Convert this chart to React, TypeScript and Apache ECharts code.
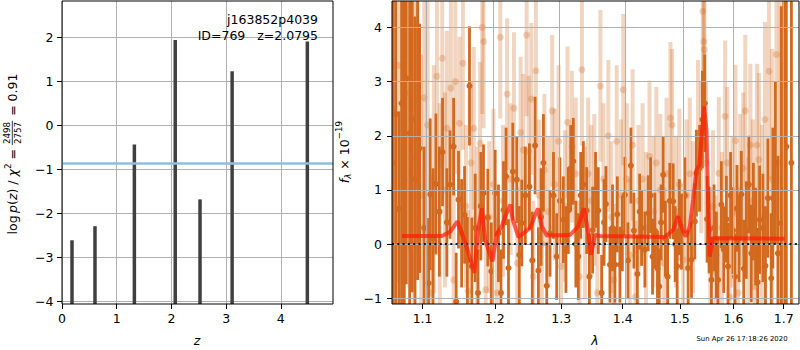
import React, { useEffect, useRef } from "react";
import * as echarts from "echarts";

// ---------- Left panel: log p(z) ----------
const zTicks = [0, 1, 2, 3, 4];
const logpTicks = [-4, -3, -2, -1, 0, 1, 2];
const zRange = [0, 4.954];
const logpRange = [-4.068, 2.819];
// redshift peaks of p(z) and their log-probability maxima
const peakZ = [0.183, 0.603, 1.323, 2.07, 2.523, 3.11, 4.485];
const peakLogP = [-2.62, -2.3, -0.44, 1.93, -1.69, 1.22, 1.9];
const chi2Level = -0.88;

// ---------- Right panel: spectrum ----------
const lamTicks = [1.1, 1.2, 1.3, 1.4, 1.5, 1.6, 1.7];
const fluxTicks = [-1, 0, 1, 2, 3, 4];
const lamRange = [1.0602, 1.7316];
const fluxRange = [-1.105, 4.488];

// [wavelength (um), flux, error] — strong grism
const darkSpectrum: [number, number, number][] = [
  [1.0615, 1.5, 5], [1.065, 2.4, 4.5], [1.069, 0.65, 1.8], [1.0725, 2.6, 4], [1.076, 1.2, 4],
  [1.0786, 3.06, 3.8], [1.083, 2.05, 3.5], [1.0864, 2.31, 3.2], [1.09, 1.2, 3.0], [1.0934, 1.94, 2.6],
  [1.0961, 1.77, 2.3], [1.102, 0.3, 1.5], [1.108, -0.72, 1.2], [1.1102, 0.92, 1.4], [1.114, 0.1, 1.3],
  [1.1178, 1.11, 1.3], [1.1225, 0.6, 1.2], [1.1268, 1.7, 1.0], [1.1327, 0.4, 1.0], [1.137, 1.1, 1.0],
  [1.1419, 1.8, 0.9], [1.1455, -1.06, 0.9], [1.1487, 0.82, 0.9], [1.153, 0.2, 1.0], [1.1571, 0.54, 0.9],
  [1.161, -0.3, 0.8], [1.164, 2.92, 1.1], [1.1673, -0.41, 0.9], [1.172, 0.3, 1.0], [1.176, -0.9, 0.8],
  [1.18, 0.7, 1.0], [1.1838, 0.94, 0.9], [1.19, 0.49, 0.9], [1.195, -0.5, 0.9], [1.2006, 0.94, 0.8],
  [1.2054, 0.2, 0.9], [1.209, -0.9, 0.8], [1.2127, 0.63, 0.9], [1.2165, 1.25, 0.9], [1.22, -0.44, 0.9],
  [1.2264, 1.34, 0.9], [1.2323, 1.19, 0.8], [1.236, -0.2, 0.9], [1.2397, 0.39, 0.8], [1.245, 0.9, 0.9],
  [1.2512, 1.06, 0.8], [1.2555, -0.3, 0.9], [1.2598, 1.82, 0.9], [1.2648, -0.49, 0.8], [1.269, 0.5, 0.9],
  [1.2725, 1.5, 0.9], [1.2776, -0.77, 0.8], [1.2827, 0.2, 0.8], [1.288, 0.9, 0.8], [1.293, -0.23, 0.8],
  [1.298, 0.8, 0.8], [1.3034, 0.45, 0.8], [1.3075, -0.1, 0.8], [1.3113, 0.62, 0.8], [1.315, 1.4, 0.8],
  [1.3192, 1.53, 0.8], [1.3232, 0.0, 0.8], [1.3272, -0.23, 0.8], [1.331, 0.9, 0.8], [1.3352, 1.1, 0.8],
  [1.3406, 0.62, 0.8], [1.345, -0.6, 0.8], [1.3503, 0.26, 0.8], [1.355, 1.0, 0.7], [1.3595, 0.62, 0.8],
  [1.365, -0.9, 0.7], [1.369, 0.4, 0.8], [1.3721, 0.74, 0.7], [1.3787, -0.38, 0.7], [1.383, 0.3, 0.8],
  [1.387, -0.38, 0.7], [1.391, 0.55, 0.7], [1.3954, -0.38, 0.7], [1.3995, 0.2, 0.7], [1.4038, 0.91, 0.7],
  [1.409, -0.3, 0.7], [1.414, 1.45, 0.7], [1.4191, 0.25, 0.7], [1.425, -0.55, 0.7], [1.429, 0.6, 0.7],
  [1.4323, 0.3, 0.7], [1.438, -0.1, 0.7], [1.4438, 0.57, 0.7], [1.448, 0.9, 0.7], [1.4514, -0.23, 0.7],
  [1.4555, 0.25, 0.7], [1.46, -0.45, 0.7], [1.4631, -0.78, 0.7], [1.4665, 0.4, 0.7], [1.4701, 1.28, 0.7],
  [1.474, 0.1, 0.7], [1.478, -0.6, 0.7], [1.4819, 0.8, 0.7], [1.4879, 0.79, 0.7], [1.4915, 0.0, 0.7],
  [1.4951, -0.41, 0.7], [1.499, 0.5, 0.7], [1.5029, 0.23, 0.7], [1.509, 0.9, 0.7], [1.515, -0.44, 0.7],
  [1.5211, -0.29, 0.7], [1.5272, 0.42, 0.7], [1.5302, 1.31, 0.8], [1.536, 1.4, 0.8], [1.5413, 2.3, 0.9],
  [1.5456, 2.6, 0.9], [1.55, 0.46, 0.8], [1.5537, 0.26, 0.8], [1.5581, -0.66, 0.8], [1.563, 0.3, 0.8],
  [1.5675, -0.2, 0.8], [1.5706, -0.66, 0.8], [1.5769, 0.73, 0.8], [1.5815, -0.1, 0.8], [1.5864, 0.46, 0.8],
  [1.5896, -0.41, 0.8], [1.5945, 0.9, 0.8], [1.5992, 0.25, 0.8], [1.603, -0.6, 0.8], [1.6069, 0.66, 0.8],
  [1.611, 0.1, 0.8], [1.6153, 0.92, 0.8], [1.62, -0.45, 0.9], [1.625, 0.26, 0.9], [1.63, 1.1, 0.9],
  [1.6348, -0.17, 0.9], [1.639, 0.6, 0.9], [1.6434, 0.14, 0.9], [1.6475, -0.7, 1.0], [1.6513, 0.45, 1.0],
  [1.6579, 0.3, 1.0], [1.663, -0.4, 1.1], [1.6679, 0.85, 1.1], [1.6746, -0.63, 1.2], [1.6779, 0.85, 1.3],
  [1.683, 1.5, 1.5], [1.6881, -0.17, 1.8], [1.6949, 0.39, 4], [1.7, 1.0, 5], [1.7053, 1.8, 5],
  [1.7158, 1.5, 5],
];

// [wavelength (um), flux, error] — faint grism
const lightSpectrum: [number, number, number][] = [
  [1.062, 2.5, 4], [1.068, 3.3, 4], [1.0774, 2.79, 3.5], [1.0839, 3.03, 3.2], [1.089, 1.6, 3],
  [1.0934, 2.66, 2.8], [1.098, 0.9, 2.6], [1.1022, 2.7, 2.5], [1.1067, 2.2, 2.4], [1.111, -0.9, 2.2],
  [1.115, 1.2, 2.1], [1.1192, 3.1, 2.0], [1.123, 0.6, 2.0], [1.1264, 3.43, 2.0], [1.13, 1.0, 1.8],
  [1.1327, 2.14, 1.8], [1.1382, 2.88, 1.7], [1.142, -0.66, 1.7], [1.1442, 3.0, 1.7], [1.15, 2.23, 1.6],
  [1.1548, 3.34, 1.6], [1.159, 0.7, 1.5], [1.162, -0.87, 1.5], [1.166, 1.5, 1.5], [1.17, 2.14, 1.5],
  [1.175, 0.3, 1.5], [1.179, 1.86, 1.5], [1.182, 4.0, 1.6], [1.184, 3.74, 1.6], [1.187, -0.84, 1.4],
  [1.192, 0.5, 1.4], [1.198, 1.1, 1.4], [1.203, -0.9, 1.4], [1.208, 3.82, 1.5], [1.212, 0.8, 1.4],
  [1.218, 2.77, 1.4], [1.223, 1.2, 1.4], [1.228, 2.51, 1.4], [1.233, -0.35, 1.4], [1.238, 2.06, 1.4],
  [1.242, 1.74, 1.4], [1.247, 3.86, 1.5], [1.25, 1.71, 1.4], [1.254, 2.68, 1.4], [1.257, -0.6, 1.4],
  [1.261, 3.2, 1.4], [1.266, 0.9, 1.4], [1.27, 0.0, 1.4], [1.274, 1.37, 1.4], [1.28, 0.6, 1.4],
  [1.286, 2.46, 1.4], [1.29, 1.1, 1.4], [1.296, 1.9, 1.4], [1.3, -0.41, 1.4], [1.306, 0.7, 1.4],
  [1.31, 2.25, 1.4], [1.317, 1.8, 1.4], [1.323, 1.3, 1.4], [1.329, -0.6, 1.4], [1.333, 3.22, 1.4],
  [1.338, 0.4, 1.4], [1.343, 1.3, 1.4], [1.348, 0.8, 1.4], [1.353, 1.0, 1.4], [1.358, -0.9, 1.4],
  [1.363, 2.92, 1.4], [1.368, 1.2, 1.4], [1.376, 2.0, 1.4], [1.381, 0.5, 1.4], [1.385, -0.66, 1.4],
  [1.39, 1.9, 1.4], [1.397, 0.9, 1.4], [1.401, 2.85, 1.4], [1.407, 1.2, 1.4], [1.412, -0.2, 1.4],
  [1.417, 1.83, 1.4], [1.422, -0.97, 1.4], [1.427, 0.8, 1.4], [1.434, 1.2, 1.4], [1.44, 0.3, 1.4],
  [1.446, 1.62, 1.4], [1.453, 0.6, 1.4], [1.458, 1.5, 1.4], [1.465, 1.0, 1.4], [1.472, -0.35, 1.4],
  [1.476, 1.3, 1.4], [1.483, 2.33, 1.4], [1.486, 2.2, 1.4], [1.493, 0.6, 1.4], [1.499, 1.1, 1.4],
  [1.506, -0.29, 1.4], [1.512, 0.9, 1.4], [1.518, 1.3, 1.4], [1.524, 0.5, 1.4], [1.533, 2.0, 1.4],
  [1.539, 1.6, 1.4], [1.542, 4.3, 1.6], [1.544, 3.74, 1.6], [1.545, 3.59, 1.6], [1.548, 1.5, 1.5],
  [1.556, -0.35, 1.4], [1.561, 0.7, 1.4], [1.566, -0.5, 1.4], [1.572, 1.31, 1.4], [1.578, 0.3, 1.4],
  [1.584, 2.36, 1.4], [1.588, 1.5, 1.4], [1.593, -0.97, 1.4], [1.598, 0.6, 1.4], [1.604, 1.91, 1.4],
  [1.609, -0.9, 1.4], [1.613, 1.0, 1.4], [1.619, 1.4, 1.4], [1.623, 2.46, 1.4], [1.629, 0.2, 1.4],
  [1.633, 1.83, 1.5], [1.638, 0.8, 1.5], [1.642, -0.78, 1.5], [1.646, 1.83, 1.5], [1.65, 1.56, 1.6],
  [1.656, 0.5, 1.7], [1.662, 2.3, 1.8], [1.67, 3.19, 2.0], [1.676, 1.2, 2.4], [1.685, 3.5, 3],
  [1.692, 1.5, 3.5], [1.699, -0.14, 3.5],
];

// best-fit template model
const modelWave = [
  1.073, 1.1259, 1.1373, 1.1473, 1.1534, 1.1604, 1.1708, 1.1768, 1.1815, 1.1862, 1.1965, 1.203,
  1.2103, 1.2151, 1.223, 1.2264, 1.2348, 1.2522, 1.264, 1.2699, 1.2776, 1.314, 1.3272, 1.3363,
  1.3433, 1.3476, 1.3541, 1.3623, 1.4731, 1.4879, 1.4969, 1.5048, 1.5109, 1.5181, 1.5242, 1.5302,
  1.5357, 1.5413, 1.5444, 1.5488, 1.5519, 1.555, 1.5612, 1.7019,
];
const modelFlux = [
  0.15, 0.15, 0.23, 0.42, 0.2, -0.07, -0.53, 0.33, 0.66, 0.08, -0.32, 0.2,
  0.33, 0.51, 0.73, 0.45, 0.13, 0.3, 0.66, 0.33, 0.16, 0.17, 0.33, 0.66,
  0.2, -0.2, 0.17, 0.15, 0.13, 0.26, 0.51, 0.26, 0.14, 0.33, 0.82, 1.37,
  1.46, 2.17, 2.54, 2.11, 0.88, -0.23, 0.11, 0.1,
];

const objectName = "j163852p4039";
const objectInfo = "ID=769   z=2.0795";
const timestamp = "Sun Apr 26 17:18:26 2020";

const FONT = '"DejaVu Sans"';
const ORANGE = "#d2691e";
const GRID_GRAY = "#b0b0b0";

const minusFmt = (v: number) => (v < 0 ? "\u2212" + Math.abs(v) : String(v));

function makeAxis(gridIndex: number, min: number, max: number, ticks: number[], fmt: (v: number) => string, margin: number, z = 0, split = true) {
  return {
    type: "value",
    gridIndex,
    min,
    max,
    z,
    axisLine: { show: false, onZero: false },
    axisTick: { show: true, inside: false, length: 5, customValues: ticks, lineStyle: { color: "#000", width: 1 } },
    axisLabel: { show: true, customValues: ticks, formatter: fmt, margin, color: "#000", fontSize: 12.5, fontFamily: FONT },
    splitLine: { show: split, lineStyle: { color: GRID_GRAY, width: 1 } },
  };
}

type Piece = { t?: string; size: number; italic?: boolean; dy?: number; frac?: [string, string] };

function fontOf(size: number, italic?: boolean) {
  return `${italic ? "italic " : ""}${size}px ${FONT}`;
}

function textEl(x: number, y: number, text: string, size: number, italic: boolean | undefined, align: string) {
  return {
    type: "text",
    x,
    y,
    z: 20,
    style: {
      text,
      font: fontOf(size, italic),
      fill: "#000",
      textAlign: align,
      align,
      textVerticalAlign: "middle",
      verticalAlign: "middle",
    },
  };
}

function buildRotatedLabel(pieces: Piece[], cx: number, cy: number) {
  const ctx = document.createElement("canvas").getContext("2d")!;
  let x = 0;
  const children: any[] = [];
  for (const p of pieces) {
    if (p.frac) {
      ctx.font = fontOf(p.size);
      const w = Math.max(ctx.measureText(p.frac[0]).width, ctx.measureText(p.frac[1]).width) + 2;
      const mid = x + w / 2;
      children.push(textEl(mid, -4.8, p.frac[0], p.size, false, "center"));
      children.push({ type: "line", shape: { x1: x, y1: 0.3, x2: x + w, y2: 0.3 }, style: { stroke: "#000", lineWidth: 0.8 } });
      children.push(textEl(mid, 5.6, p.frac[1], p.size, false, "center"));
      x += w + 1;
    } else {
      ctx.font = fontOf(p.size, p.italic);
      const w = ctx.measureText(p.t!).width;
      children.push(textEl(x, p.dy || 0, p.t!, p.size, p.italic, "left"));
      x += w;
    }
  }
  return { type: "group", x: cx, y: cy + x / 2, rotation: Math.PI / 2, children };
}

export default function App() {
  const ref = useRef<HTMLDivElement>(null);

  useEffect(() => {
    if (!ref.current) return;
    const chart = echarts.init(ref.current, undefined, { renderer: "svg" });

    const ln = Math.log;
    const spikeData = peakZ.map((z, i) => [z, peakLogP[i]]);
    const darkData = darkSpectrum.map(([l, f, e]) => [ln(l), f, e]);
    const lightData = lightSpectrum.map(([l, f, e]) => [ln(l), f, e]);
    const modelData = modelWave.map((l, i) => [ln(l), modelFlux[i]]);

    const errRender = (barW: number, r: number, opacity: number) => (_p: any, api: any) => {
      const x = api.value(0);
      const y = api.value(1);
      const e = api.value(2);
      const lo = api.coord([x, y - e]);
      const hi = api.coord([x, y + e]);
      const c = api.coord([x, y]);
      return {
        type: "group",
        children: [
          { type: "rect", shape: { x: lo[0] - barW / 2, y: hi[1], width: barW, height: lo[1] - hi[1] }, style: { fill: ORANGE, opacity } },
          { type: "circle", shape: { cx: c[0], cy: c[1], r }, style: { fill: ORANGE, opacity } },
        ],
      };
    };

    const yLabelLeft = buildRotatedLabel(
      [
        { t: "log", size: 12.5 },
        { t: "\u2009", size: 12.5 },
        { t: "p", size: 12.5, italic: true },
        { t: "(", size: 12.5 },
        { t: "z", size: 12.5, italic: true },
        { t: ") / ", size: 12.5 },
        { t: "\u03c7", size: 12.5, italic: true },
        { t: "2", size: 8.75, dy: -4.5 },
        { t: " = ", size: 12.5 },
        { frac: ["2498", "2757"], size: 8.75 },
        { t: " = 0.91", size: 12.5 },
      ],
      12,
      154
    );

    const yLabelRight = buildRotatedLabel(
      [
        { t: "f", size: 12.5, italic: true },
        { t: "\u03bb", size: 8.75, italic: true, dy: 3.5 },
        { t: " \u00d7 10", size: 12.5 },
        { t: "\u221219", size: 8.75, dy: -5 },
      ],
      344,
      152
    );

    const vGrid = (ticks: number[]) => ticks.map((v) => ({ xAxis: v }));

    const option: any = {
      animation: false,
      backgroundColor: "#ffffff",
      grid: [
        { left: 62, top: 1, width: 271, height: 303, show: true, borderColor: "#000", borderWidth: 1, backgroundColor: "transparent", z: 10 },
        { left: 392, top: 1, width: 407, height: 303, show: true, borderColor: "#000", borderWidth: 1, backgroundColor: "transparent", z: 10 },
      ],
      xAxis: [
        makeAxis(0, zRange[0], zRange[1], zTicks, (v) => String(v), 8, 0, false),
        makeAxis(1, ln(lamRange[0]), ln(lamRange[1]), lamTicks.map(ln), (v) => Math.exp(v).toFixed(1), 8, 4, false),
      ],
      yAxis: [
        makeAxis(0, logpRange[0], logpRange[1], logpTicks, minusFmt, 8.5),
        makeAxis(1, fluxRange[0], fluxRange[1], fluxTicks, minusFmt, 10, 4),
      ],
      series: [
        {
          type: "line",
          name: "gridL",
          xAxisIndex: 0,
          yAxisIndex: 0,
          z: 1,
          data: [],
          markLine: {
            silent: true,
            symbol: ["none", "none"],
            label: { show: false },
            lineStyle: { color: GRID_GRAY, width: 1, type: "solid" },
            data: vGrid(zTicks),
          },
        },
        {
          type: "custom",
          name: "pz",
          xAxisIndex: 0,
          yAxisIndex: 0,
          clip: true,
          data: spikeData,
          encode: { x: 0, y: 1 },
          renderItem: (_p: any, api: any) => {
            const top = api.coord([api.value(0), api.value(1)]);
            const bot = api.coord([api.value(0), logpRange[0] - 1]);
            return {
              type: "rect",
              shape: { x: top[0] - 1.75, y: top[1], width: 3.5, height: bot[1] - top[1] },
              style: { fill: "#404040" },
            };
          },
          markLine: {
            silent: true,
            symbol: ["none", "none"],
            label: { show: false },
            lineStyle: { color: "#8fbfe0", width: 2.5, type: "solid" },
            data: [{ yAxis: chi2Level }],
          },
        },
        {
          type: "custom",
          name: "faint",
          xAxisIndex: 1,
          yAxisIndex: 1,
          clip: true,
          data: lightData,
          encode: { x: 0, y: 1 },
          renderItem: errRender(4, 3.5, 0.28),
        },
        {
          type: "custom",
          name: "strong",
          xAxisIndex: 1,
          yAxisIndex: 1,
          clip: true,
          data: darkData,
          encode: { x: 0, y: 1 },
          renderItem: errRender(2.8, 3, 1),
        },
        {
          type: "line",
          name: "gridR",
          xAxisIndex: 1,
          yAxisIndex: 1,
          z: 4,
          data: [],
          markLine: {
            silent: true,
            symbol: ["none", "none"],
            label: { show: false },
            lineStyle: { color: GRID_GRAY, width: 1, type: "solid" },
            data: vGrid(lamTicks.map(ln)),
          },
        },
        {
          type: "line",
          name: "model",
          xAxisIndex: 1,
          yAxisIndex: 1,
          z: 6,
          data: modelData,
          showSymbol: false,
          symbol: "none",
          lineStyle: { color: "rgba(255,25,5,0.7)", width: 4 },
          markLine: {
            silent: true,
            symbol: ["none", "none"],
            label: { show: false },
            lineStyle: { color: "#111", width: 2, type: [2, 3.3], opacity: 1 },
            data: [{ yAxis: 0 }],
          },
        },
      ],
      graphic: [
        yLabelLeft,
        yLabelRight,
        textEl(197, 340, "z", 12.5, true, "center"),
        textEl(595, 340, "\u03bb", 12.5, true, "center"),
        textEl(318, 19, objectName, 12.5, false, "right"),
        textEl(318, 35, objectInfo, 12.5, false, "right"),
        textEl(742, 339, timestamp, 6.9, false, "center"),
      ],
    };

    chart.setOption(option);
    return () => chart.dispose();
  }, []);

  return <div ref={ref} style={{ width: 800, height: 350, position: "absolute", left: 0, top: 0 }} />;
}
